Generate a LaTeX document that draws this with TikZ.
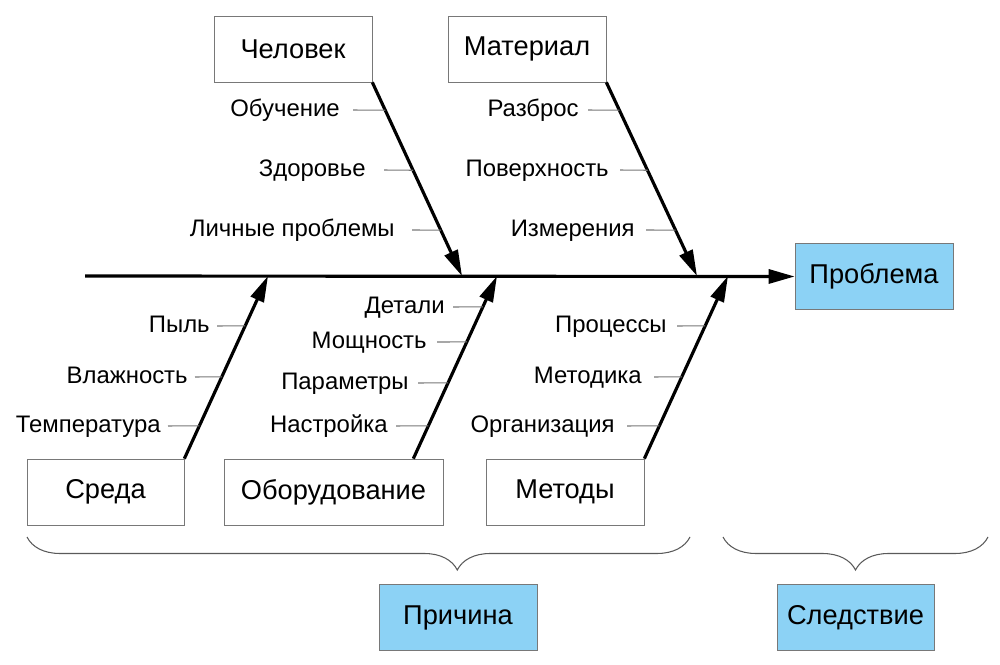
\documentclass[tikz,border=0pt]{standalone}
\usepackage{fontspec}
\setmainfont{Liberation Sans}
\usetikzlibrary{positioning,calc,arrows.meta,decorations.pathreplacing}
\definecolor{effectBlue}{RGB}{140,210,245}
\definecolor{boxGray}   {RGB}{120,120,120}
\definecolor{braceGray} {RGB}{90,90,90}
\tikzstyle{cause}  = [draw=boxGray, fill=white, minimum width=3.16cm, minimum height=1.32cm, font=\fontsize{15.5}{18}\selectfont]
\tikzstyle{effect} = [draw=boxGray, fill=effectBlue, minimum width=3.16cm, minimum height=1.33cm, font=\fontsize{15.5}{18}\selectfont]
\tikzstyle{factor} = [anchor=east, inner sep=0pt, text height=0.716em, text depth=0pt, font=\fontsize{13.6}{16}\selectfont]
\tikzstyle{bone}   = [line width=1.8pt, -{Triangle[length=0.52cm,width=0.28cm]}]
\tikzstyle{tick}   = [draw=boxGray, line width=0.6pt]
\tikzstyle{group}  = [draw=braceGray, line width=0.6pt, decorate]

\begin{document}
\begin{tikzpicture}[x=0.02cm, y=-0.02cm]
\useasboundingbox (0,0) rectangle (1000,665);

\node[cause]                       (man)      at (293,49)    {Человек};
\node[cause]                       (material) at (527,49)    {Материал};
\node[cause, minimum width=3.14cm] (env)      at (105.5,492) {Среда};
\node[cause, minimum width=4.38cm] (equip)    at (333.5,492) {Оборудование};
\node[cause]                       (method)   at (565,492)   {Методы};
\node[effect]                      (problem)  at (874,276.5) {Проблема};
\node[effect]                      (reason)   at (458,617.5) {Причина};
\node[effect, minimum width=3.14cm](result)   at (855.5,617.5) {Следствие};

\coordinate (tail)    at (85,276);
\coordinate (manH)    at (462,276);
\coordinate (matH)    at (697,276);
\coordinate (envH)    at (268,276);
\coordinate (equipH)  at (497,276);
\coordinate (methodH) at (728,276);
\coordinate (equipS)  at ($(equip.north east)+(-30,0)$);

\draw[bone] (tail) -- (problem.west);
\draw[bone] (man.south east)      -- (manH);
\draw[bone] (material.south east) -- (matH);
\draw[bone] (env.north east)      -- (envH);
\draw[bone] (equipS)              -- (equipH);
\draw[bone] (method.north east)   -- (methodH);

\node[factor] (man1) at (340,110) {Обучение};
\node[factor] (man2) at (366,170) {Здоровье};
\node[factor] (man3) at (395,230) {Личные проблемы};
\draw[tick] (man1.east) ++(13,0) -- ($(man.south east)!0.144!(manH)$);
\draw[tick] (man2.east) ++(18,0) -- ($(man.south east)!0.454!(manH)$);
\draw[tick] (man3.east) ++(17,0) -- ($(man.south east)!0.763!(manH)$);

\node[factor] (mat1) at (579,110) {Разброс};
\node[factor] (mat2) at (609,170) {Поверхность};
\node[factor] (mat3) at (635,230) {Измерения};
\draw[tick] (mat1.east) ++(9,0)  -- ($(material.south east)!0.144!(matH)$);
\draw[tick] (mat2.east) ++(11,0) -- ($(material.south east)!0.454!(matH)$);
\draw[tick] (mat3.east) ++(11,0) -- ($(material.south east)!0.763!(matH)$);

\node[factor] (env1) at (210,326) {Пыль};
\node[factor] (env2) at (188,377) {Влажность};
\node[factor] (env3) at (161,426) {Температура};
\draw[tick] (env1.east) ++(7,0) -- ($(env.north east)!0.727!(envH)$);
\draw[tick] (env2.east) ++(7,0) -- ($(env.north east)!0.448!(envH)$);
\draw[tick] (env3.east) ++(7,0) -- ($(env.north east)!0.180!(envH)$);

\node[factor] (equip1) at (445,307) {Детали};
\node[factor] (equip2) at (427,342) {Мощность};
\node[factor] (equip3) at (409,383) {Параметры};
\node[factor] (equip4) at (388,426) {Настройка};
\draw[tick] (equip1.east) ++(8,0)  -- ($(equipS)!0.831!(equipH)$);
\draw[tick] (equip2.east) ++(10,0) -- ($(equipS)!0.639!(equipH)$);
\draw[tick] (equip3.east) ++(9,0)  -- ($(equipS)!0.415!(equipH)$);
\draw[tick] (equip4.east) ++(8,0)  -- ($(equipS)!0.180!(equipH)$);

\node[factor] (method1) at (667,326) {Процессы};
\node[factor] (method2) at (642,377) {Методика};
\node[factor] (method3) at (615,426) {Организация};
\draw[tick] (method1.east) ++(10,0) -- ($(method.north east)!0.727!(methodH)$);
\draw[tick] (method2.east) ++(12,0) -- ($(method.north east)!0.448!(methodH)$);
\draw[tick] (method3.east) ++(12,0) -- ($(method.north east)!0.180!(methodH)$);

\draw[group, decoration={brace, amplitude=0.66cm, aspect=0.351}] (690,537) -- (27,537);
\draw[group, decoration={brace, amplitude=0.66cm, aspect=0.5}]   (988,537) -- (723,537);
\end{tikzpicture}
\end{document}
